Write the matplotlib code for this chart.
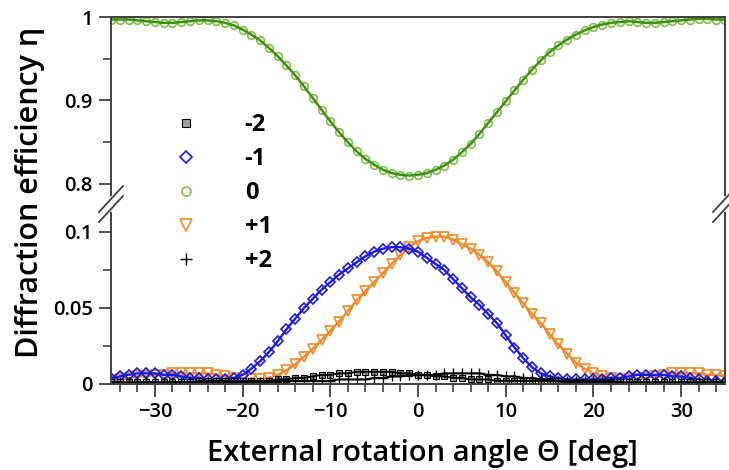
import matplotlib
matplotlib.use("Agg")
import matplotlib.pyplot as plt
from matplotlib.lines import Line2D
from matplotlib.ticker import MultipleLocator, FixedLocator

plt.rcParams['font.family'] = ['Open Sans', 'DejaVu Sans']
plt.rcParams['font.weight'] = 600

# rotation angle grid (deg)
angle = list(range(-35, 36))

# diffraction efficiency per order (-35 ... 35 deg)
eta_m2 = [0.001, 0.001, 0.001, 0.001, 0.001, 0.001, 0.001, 0.001, 0.001, 0.001,
          0.002, 0.002, 0.002, 0.002, 0.002, 0.002, 0.002, 0.002, 0.002, 0.003,
          0.003, 0.004, 0.004, 0.005, 0.006, 0.006, 0.007, 0.007, 0.008, 0.008,
          0.008, 0.008, 0.008, 0.007, 0.007, 0.006, 0.006, 0.005, 0.005, 0.004,
          0.004, 0.003, 0.003, 0.003, 0.002, 0.002, 0.002, 0.002, 0.002, 0.002,
          0.002, 0.002, 0.001, 0.001, 0.001, 0.001, 0.001, 0.001, 0.001, 0.001,
          0.001, 0.001, 0.001, 0.001, 0.001, 0.001, 0.001, 0.001, 0.001, 0.001,
          0.001]
eta_m1 = [0.004, 0.005, 0.006, 0.007, 0.007, 0.007, 0.006, 0.006, 0.005, 0.004,
          0.004, 0.003, 0.003, 0.003, 0.004, 0.006, 0.010, 0.015, 0.021, 0.028,
          0.036, 0.043, 0.050, 0.056, 0.062, 0.067, 0.072, 0.076, 0.080, 0.084,
          0.087, 0.089, 0.090, 0.090, 0.089, 0.087, 0.083, 0.079, 0.075, 0.069,
          0.063, 0.057, 0.052, 0.046, 0.040, 0.032, 0.024, 0.017, 0.011, 0.007,
          0.005, 0.004, 0.003, 0.003, 0.003, 0.003, 0.003, 0.004, 0.004, 0.005,
          0.006, 0.006, 0.006, 0.006, 0.005, 0.005, 0.004, 0.003, 0.002, 0.002,
          0.001]
eta_0 = [0.997, 0.997, 0.997, 0.996, 0.995, 0.994, 0.993, 0.993, 0.994, 0.995,
         0.996, 0.996, 0.995, 0.993, 0.990, 0.985, 0.979, 0.972, 0.963, 0.953,
         0.942, 0.930, 0.917, 0.903, 0.889, 0.875, 0.862, 0.850, 0.839, 0.830,
         0.823, 0.817, 0.813, 0.811, 0.810, 0.811, 0.813, 0.817, 0.822, 0.829,
         0.838, 0.848, 0.860, 0.873, 0.886, 0.899, 0.912, 0.925, 0.937, 0.948,
         0.958, 0.966, 0.973, 0.979, 0.984, 0.988, 0.991, 0.993, 0.994, 0.995,
         0.994, 0.993, 0.993, 0.994, 0.995, 0.996, 0.997, 0.998, 0.998, 0.997,
         0.997]
eta_p1 = [0.002, 0.003, 0.004, 0.005, 0.005, 0.006, 0.006, 0.007, 0.007, 0.007,
          0.007, 0.007, 0.006, 0.005, 0.004, 0.003, 0.003, 0.003, 0.004, 0.006,
          0.009, 0.013, 0.018, 0.023, 0.029, 0.035, 0.041, 0.048, 0.055, 0.061,
          0.067, 0.073, 0.079, 0.085, 0.090, 0.094, 0.096, 0.097, 0.097, 0.095,
          0.092, 0.089, 0.085, 0.080, 0.074, 0.067, 0.060, 0.053, 0.046, 0.040,
          0.033, 0.026, 0.020, 0.014, 0.010, 0.007, 0.005, 0.004, 0.003, 0.003,
          0.003, 0.004, 0.005, 0.006, 0.007, 0.007, 0.007, 0.007, 0.006, 0.006,
          0.005]
eta_p2 = [0.001, 0.001, 0.001, 0.001, 0.001, 0.001, 0.001, 0.001, 0.001, 0.001,
          0.001, 0.001, 0.001, 0.001, 0.001, 0.001, 0.001, 0.001, 0.001, 0.002,
          0.002, 0.002, 0.002, 0.002, 0.002, 0.002, 0.003, 0.003, 0.003, 0.003,
          0.004, 0.004, 0.005, 0.005, 0.006, 0.006, 0.006, 0.006, 0.007, 0.007,
          0.007, 0.007, 0.007, 0.006, 0.006, 0.005, 0.005, 0.004, 0.004, 0.003,
          0.003, 0.002, 0.002, 0.002, 0.002, 0.002, 0.002, 0.002, 0.001, 0.001,
          0.001, 0.001, 0.001, 0.001, 0.001, 0.001, 0.001, 0.001, 0.001, 0.001,
          0.001]

order_labels = ["-2", "-1", "0", "+1", "+2"]

BLUE = "#1a1ae6"
ORANGE = "#ee8a2a"
GREEN_M = "#7fbf4d"
GREEN_L = "#3f8f14"
GREY = "#a0a0a0"
SPINE = "#404040"

fig = plt.figure(figsize=(7.29, 4.70), dpi=100)
ax_top = fig.add_axes([0.1523, 0.566, 0.8422, 0.3978])
ax_bot = fig.add_axes([0.1523, 0.183, 0.8422, 0.383])

# top panel: zeroth order
ax_top.plot(angle, eta_0, ls="none", marker="o", ms=5.5, mfc="none", mec=GREEN_M, mew=1.2)
ax_top.plot(angle, eta_0, color=GREEN_L, lw=1.8)

# bottom panel: +-1 and +-2 orders
ax_bot.plot(angle, eta_p1, ls="none", marker="v", ms=7, mfc="none", mec=ORANGE, mew=1.2)
ax_bot.plot(angle, eta_p1, color=ORANGE, lw=1.7)
ax_bot.plot(angle, eta_m1, ls="none", marker="D", ms=5, mfc="none", mec=BLUE, mew=1.2)
ax_bot.plot(angle, eta_m1, color=BLUE, lw=1.7)
ax_bot.plot(angle, eta_m2, ls="none", marker="s", ms=4, mfc=GREY, mec="black", mew=0.8)
ax_bot.plot(angle, eta_m2, color="black", lw=1.4)
ax_bot.plot(angle, eta_p2, ls="none", marker="+", ms=6.5, color="black", mew=1.0)
ax_bot.plot(angle, eta_p2, color="black", lw=1.4)

for ax in (ax_top, ax_bot):
    ax.set_xlim(-35, 35)
    for s in ax.spines.values():
        s.set_color(SPINE)
        s.set_linewidth(1.4)
    ax.tick_params(axis="both", which="major", direction="out", length=9,
                   width=1.3, color=SPINE, labelsize=14.5, pad=4)
    ax.tick_params(axis="both", which="minor", direction="out", length=5.5,
                   width=1.2, color=SPINE)

ax_top.set_ylim(0.776, 1.0)
ax_top.spines["bottom"].set_visible(False)
ax_top.tick_params(axis="x", which="both", bottom=False, labelbottom=False)
ax_top.yaxis.set_major_locator(FixedLocator([0.8, 0.9, 1.0]))
ax_top.yaxis.set_minor_locator(FixedLocator([0.85, 0.95]))
ax_top.set_yticklabels(["0.8", "0.9", "1"])

ax_bot.set_ylim(0, 0.1184)
ax_bot.spines["top"].set_visible(False)
ax_bot.yaxis.set_major_locator(FixedLocator([0, 0.05, 0.1]))
ax_bot.yaxis.set_minor_locator(FixedLocator([0.025, 0.075]))
ax_bot.set_yticklabels(["0", "0.05", "0.1"])
ax_bot.xaxis.set_major_locator(MultipleLocator(10))
ax_bot.xaxis.set_minor_locator(MultipleLocator(2))
ax_bot.set_xticks([-30, -20, -10, 0, 10, 20, 30])
ax_bot.set_xticklabels(["\u221230", "\u221220", "\u221210", "0", "10", "20", "30"])

# axis break marks on both side spines
W, H = 729, 470
yc = 204
for xs in (111, 725):
    fig.add_artist(Line2D([xs / W, xs / W], [1 - (yc - 5) / H, 1 - (yc + 5) / H],
                          color="white", lw=4, transform=fig.transFigure))
    for off in (-5, 5):
        fig.add_artist(Line2D([(xs - 12) / W, (xs + 12) / W],
                              [1 - (yc + off + 13) / H, 1 - (yc + off - 13) / H],
                              color=SPINE, lw=1.3, transform=fig.transFigure))

fig.text(30 / W, 1 - 192 / H, "Diffraction efficiency \u03b7", rotation=90,
         ha="center", va="center", fontsize=22)
fig.text(422 / W, 1 - 453 / H, "External rotation angle \u0398 [deg]",
         ha="center", va="center", fontsize=21)

handles = [
    Line2D([], [], ls="none", marker="s", ms=6, mfc=GREY, mec="black", mew=0.8),
    Line2D([], [], ls="none", marker="D", ms=6, mfc="none", mec=BLUE, mew=1.2),
    Line2D([], [], ls="none", marker="o", ms=6.5, mfc="none", mec=GREEN_M, mew=1.2),
    Line2D([], [], ls="none", marker="v", ms=8, mfc="none", mec=ORANGE, mew=1.2),
    Line2D([], [], ls="none", marker="+", ms=8, color="black", mew=1.0),
]
fig.legend(handles, order_labels, loc="upper left",
           bbox_to_anchor=(162 / W, 1 - 104 / H), frameon=False,
           handlelength=1.2, handletextpad=1.9, labelspacing=0.42,
           borderaxespad=0, prop={"size": 17, "weight": "bold"})

fig.savefig("out.png", dpi=100)
